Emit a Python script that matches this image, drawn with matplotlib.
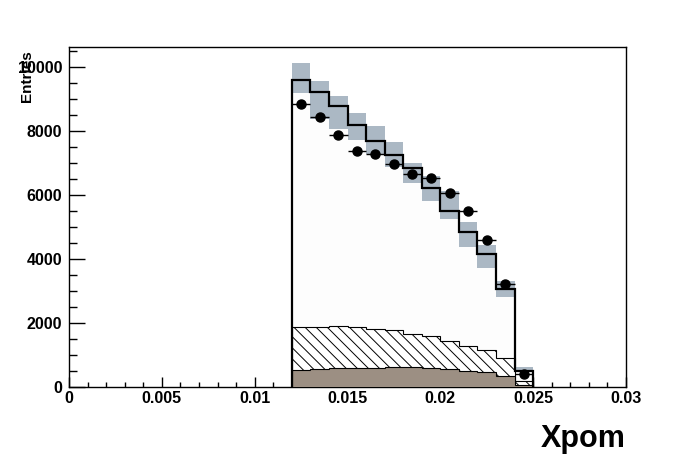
import numpy as np
import matplotlib
matplotlib.use("Agg")
import matplotlib.pyplot as plt
from matplotlib.ticker import MultipleLocator, FixedLocator, FixedFormatter

plt.rcParams['font.family'] = ['Liberation Sans', 'DejaVu Sans']
plt.rcParams['hatch.linewidth'] = 0.7

# ---- data ----
bin_edges = [0.012, 0.013, 0.014, 0.015, 0.016, 0.017, 0.018, 0.019,
             0.020, 0.021, 0.022, 0.023, 0.024, 0.025]
mc_total = [9584, 9205, 8767, 8203, 7693, 7264, 6850, 6231, 5510, 4853, 4164, 3060, 491]
band_low = [9185, 8372, 8068, 7724, 7286, 6888, 6387, 5824, 5250, 4383, 3726, 2799, 480]
band_high = [10135, 9549, 9101, 8560, 8162, 7652, 6994, 6606, 6127, 5157, 4436, 3309, 626]
hatched_top = [1890, 1890, 1915, 1860, 1820, 1766, 1665, 1600, 1440, 1284, 1171, 900, 175]
brown_top = [535, 558, 585, 580, 596, 620, 620, 595, 565, 507, 470, 350, 75]
data_points = [8842, 8444, 7880, 7389, 7286, 6982, 6659, 6524, 6064, 5501, 4593, 3206, 410]

x_ticks = [0, 0.005, 0.01, 0.015, 0.02, 0.025, 0.03]
x_tick_labels = ["0", "0.005", "0.01", "0.015", "0.02", "0.025", "0.03"]
y_ticks = [0, 2000, 4000, 6000, 8000, 10000]
y_tick_labels = ["0", "2000", "4000", "6000", "8000", "10000"]

edges = np.array(bin_edges)
widths = np.diff(edges)
centers = edges[:-1] + widths / 2
low = np.array(band_low)
high = np.array(band_high)

fig = plt.figure(figsize=(6.96, 4.72), dpi=100)
ax = fig.add_axes([69 / 696, (472 - 387) / 472, 557 / 696, 340 / 472])

# main MC histogram fill
ax.stairs(mc_total, edges, fill=True, color='#fdfdfd', zorder=1)
# hatched component
ax.stairs(hatched_top, edges, fill=True, facecolor='white', edgecolor='black',
          hatch='\\\\\\', linewidth=0.8, zorder=2)
# brown component
ax.stairs(brown_top, edges, fill=True, facecolor='#9c8f83', edgecolor='black',
          linewidth=0.8, zorder=3)
# uncertainty band
ax.bar(edges[:-1], high - low, bottom=low, width=widths, align='edge',
       color='#abb8c4', edgecolor='none', linewidth=0, zorder=4)
# main histogram outline
ax.stairs(mc_total, edges, fill=False, color='black', linewidth=1.6, baseline=0, zorder=5)
# data points
ax.errorbar(centers, data_points, xerr=widths / 2, fmt='o', color='black',
            markersize=6.5, elinewidth=1.0, capsize=0, zorder=6)

ax.set_xlim(0, 0.03)
ax.set_ylim(0, 10626)

ax.xaxis.set_major_locator(FixedLocator(x_ticks))
ax.xaxis.set_major_formatter(FixedFormatter(x_tick_labels))
ax.xaxis.set_minor_locator(MultipleLocator(0.001))
ax.yaxis.set_major_locator(FixedLocator(y_ticks))
ax.yaxis.set_major_formatter(FixedFormatter(y_tick_labels))
ax.yaxis.set_minor_locator(MultipleLocator(500))

ax.tick_params(axis='x', which='both', direction='in', top=False, bottom=True,
               labelsize=11.5, pad=3)
ax.tick_params(axis='x', which='major', length=7, width=1)
ax.tick_params(axis='x', which='minor', length=3.6, width=1)
ax.tick_params(axis='y', which='both', direction='in', left=True, right=False,
               labelsize=11.5, pad=5)
ax.tick_params(axis='y', which='major', length=11.5, width=1)
ax.tick_params(axis='y', which='minor', length=5.8, width=1)
for lab in ax.get_xticklabels() + ax.get_yticklabels():
    lab.set_fontweight('bold')

for sp in ax.spines.values():
    sp.set_linewidth(1.0)

fig.text(27 / 696, (472 - 50) / 472, "Entries", rotation=90, ha='center', va='top',
         fontsize=11, fontweight='bold')
fig.text(626 / 696, (472 - 447) / 472, "Xpom", ha='right', va='baseline',
         fontsize=22, fontweight='bold')

fig.savefig("out.png", dpi=100)
